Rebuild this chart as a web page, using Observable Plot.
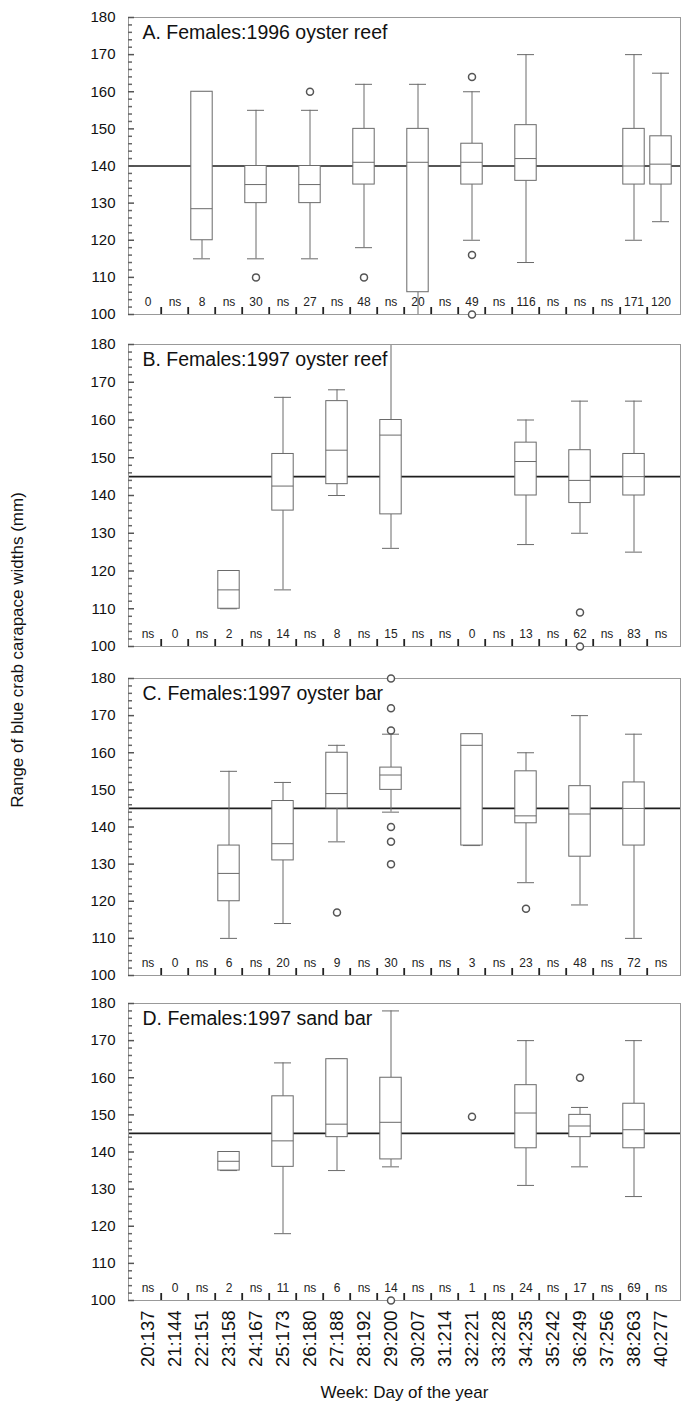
<!DOCTYPE html>
<html>
<head>
<meta charset="utf-8">
<script src="https://cdn.jsdelivr.net/npm/d3@7"></script>
<script src="https://cdn.jsdelivr.net/npm/@observablehq/plot@0.6"></script>
<style>
  body { margin: 0; background: #fff; font-family: "Liberation Sans", Arial, sans-serif; }
  #wrap { position: relative; width: 681px; height: 1410px; overflow: hidden; }
  #charts svg { display: block; }
  #ylab { position: absolute; left: 18px; top: 650px; transform: translate(-50%, -50%) rotate(-90deg);
          white-space: nowrap; font-size: 17px; color: #111; }
</style>
</head>
<body>
<div id="wrap">
  <div id="charts"></div>
  <div id="ylab">Range of blue crab carapace widths (mm)</div>
</div>
<script>
// ---------- shared categories ----------
const weeks = ["20:137","21:144","22:151","23:158","24:167","25:173","26:180","27:188","28:192","29:200",
               "30:207","31:214","32:221","33:228","34:235","35:242","36:249","37:256","38:263","40:277"];
const yMajor = [100, 110, 120, 130, 140, 150, 160, 170, 180];
const titles = ["A. Females:1996 oyster reef", "B. Females:1997 oyster reef",
                "C. Females:1997 oyster bar", "D. Females:1997 sand bar"];
const refLines = [140, 145, 145, 145];

// ---------- Panel A ----------
const countsA = ["0","ns","8","ns","30","ns","27","ns","48","ns","20","ns","49","ns","116","ns","ns","ns","171","120"];
const boxWeeksA = ["22:151","24:167","26:180","28:192","30:207","32:221","34:235","38:263","40:277"];
const lowA  = [115, 115, 115, 118, 100, 120, 114, 120, 125];
const q1A   = [120, 130, 130, 135, 106, 135, 136, 135, 135];
const medA  = [128.5, 135, 135, 141, 141, 141, 142, 140, 140.5];
const q3A   = [160, 140, 140, 150, 150, 146, 151, 150, 148];
const highA = [160, 155, 155, 162, 162, 160, 170, 170, 165];
const outWeeksA = ["24:167","26:180","28:192","32:221","32:221","32:221"];
const outValsA  = [110, 160, 110, 164, 116, 100];

// ---------- Panel B ----------
const countsB = ["ns","0","ns","2","ns","14","ns","8","ns","15","ns","ns","0","ns","13","ns","62","ns","83","ns"];
const boxWeeksB = ["23:158","25:173","27:188","29:200","34:235","36:249","38:263"];
const lowB  = [110, 115, 140, 126, 127, 130, 125];
const q1B   = [110, 136, 143, 135, 140, 138, 140];
const medB  = [115, 142.5, 152, 156, 149, 144, 145];
const q3B   = [120, 151, 165, 160, 154, 152, 151];
const highB = [120, 166, 168, 180, 160, 165, 165];
const outWeeksB = ["36:249","36:249"];
const outValsB  = [109, 100];

// ---------- Panel C ----------
const countsC = ["ns","0","ns","6","ns","20","ns","9","ns","30","ns","ns","3","ns","23","ns","48","ns","72","ns"];
const boxWeeksC = ["23:158","25:173","27:188","29:200","32:221","34:235","36:249","38:263"];
const lowC  = [110, 114, 136, 144, 135, 125, 119, 110];
const q1C   = [120, 131, 145, 150, 135, 141, 132, 135];
const medC  = [127.5, 135.5, 149, 154, 162, 143, 143.5, 145];
const q3C   = [135, 147, 160, 156, 165, 155, 151, 152];
const highC = [155, 152, 162, 165, 165, 160, 170, 165];
const outWeeksC = ["27:188","29:200","29:200","29:200","29:200","29:200","29:200","34:235"];
const outValsC  = [117, 180, 172, 166, 140, 136, 130, 118];

// ---------- Panel D ----------
const countsD = ["ns","0","ns","2","ns","11","ns","6","ns","14","ns","ns","1","ns","24","ns","17","ns","69","ns"];
const boxWeeksD = ["23:158","25:173","27:188","29:200","34:235","36:249","38:263"];
const lowD  = [135, 118, 135, 136, 131, 136, 128];
const q1D   = [135, 136, 144, 138, 141, 144, 141];
const medD  = [137.5, 143, 147.5, 148, 150.5, 147, 146];
const q3D   = [140, 155, 165, 160, 158, 150, 153];
const highD = [140, 164, 165, 178, 170, 152, 170];
const outWeeksD = ["29:200","32:221","36:249"];
const outValsD  = [100, 149.5, 160];

// ---------- drawing ----------
const FONT = "'Liberation Sans', Arial, sans-serif";
const W = 681, ML = 128, MR = 1;
const IW = W - ML - MR;
const BW = IW / weeks.length;
const yMinor = d3.range(100, 181, 2).filter(v => v % 10 !== 0);
const BOX = "#6a6a6a";

function panel(p) {
  const boxes = p.bx.map((w, i) => ({week: w, lo: p.lo[i], q1: p.q1[i], md: p.md[i], q3: p.q3[i], hi: p.hi[i]}));
  const outs = p.ow.map((w, i) => ({week: w, v: p.ov[i]}));
  const countRows = weeks.map((w, i) => ({week: w, n: p.counts[i]}));
  return Plot.plot({
    width: W,
    height: p.top + p.inner + p.bottom,
    marginLeft: ML, marginRight: MR, marginTop: p.top, marginBottom: p.bottom,
    style: {fontFamily: FONT, fontSize: "12px", background: "white", color: "#111", overflow: "visible"},
    x: {type: "band", domain: weeks, padding: 0, axis: null},
    y: {domain: [100, 180], axis: null},
    marks: [
      Plot.ruleY([p.ref], {stroke: "#1e1e1e", strokeWidth: 1.7}),
      Plot.ruleX(boxes, {x: "week", y1: "q3", y2: "hi", stroke: BOX}),
      Plot.ruleX(boxes, {x: "week", y1: "lo", y2: "q1", stroke: BOX}),
      Plot.tickY(boxes, {x: "week", y: "hi", stroke: BOX, insetLeft: 5, insetRight: 5}),
      Plot.tickY(boxes, {x: "week", y: "lo", stroke: BOX, insetLeft: 5, insetRight: 5}),
      Plot.barY(boxes, {x: "week", y1: "q1", y2: "q3", fill: "white", stroke: BOX, insetLeft: 2.8, insetRight: 2.8}),
      Plot.tickY(boxes, {x: "week", y: "md", stroke: BOX, insetLeft: 2.8, insetRight: 2.8}),
      Plot.text(countRows, {x: "week", text: "n", frameAnchor: "bottom", dy: -9, fontSize: 12, fill: "#222"}),
      Plot.frame({stroke: "#999"}),
      // inward minor / major ticks on the left axis
      Plot.axisY({ticks: yMinor, tickSize: -4, text: null, label: null, stroke: "#666", strokeWidth: 1.5}),
      Plot.axisY({ticks: yMajor, tickSize: -6, tickPadding: 19, fontSize: 15, label: null, stroke: "#555", strokeWidth: 1.5,
                  tickFormat: d => String(d)}),
      // short separators between the weekly sample-size labels
      Plot.axisX({ticks: weeks.slice(1), tickSize: -7, text: null, label: null, dx: -BW / 2, stroke: "#222", strokeWidth: 1.8}),
      Plot.dot(outs, {x: "week", y: "v", r: 3.5, stroke: "#555", fill: "white"}),
      Plot.text([p.title], {frameAnchor: "top-left", dx: 14, dy: 21, lineAnchor: "bottom", textAnchor: "start", fontSize: 19.5, fill: "#111"}),
      p.showX ? Plot.axisX({tickRotate: -90, tickSize: 0, tickPadding: 10, fontSize: 18.5, label: null}) : null,
      p.showX ? Plot.text(["Week: Day of the year"], {frameAnchor: "bottom", dy: 97, fontSize: 17, fill: "#111"}) : null
    ]
  });
}

const charts = document.getElementById("charts");
charts.append(panel({title: titles[0], ref: refLines[0], counts: countsA, bx: boxWeeksA, lo: lowA, q1: q1A, md: medA, q3: q3A, hi: highA,
  ow: outWeeksA, ov: outValsA, top: 17, inner: 297, bottom: 16}));
charts.append(panel({title: titles[1], ref: refLines[1], counts: countsB, bx: boxWeeksB, lo: lowB, q1: q1B, md: medB, q3: q3B, hi: highB,
  ow: outWeeksB, ov: outValsB, top: 14, inner: 302, bottom: 18}));
charts.append(panel({title: titles[2], ref: refLines[2], counts: countsC, bx: boxWeeksC, lo: lowC, q1: q1C, md: medC, q3: q3C, hi: highC,
  ow: outWeeksC, ov: outValsC, top: 14, inner: 297, bottom: 15}));
charts.append(panel({title: titles[3], ref: refLines[3], counts: countsD, bx: boxWeeksD, lo: lowD, q1: q1D, md: medD, q3: q3D, hi: highD,
  ow: outWeeksD, ov: outValsD, top: 13, inner: 297, bottom: 110, showX: true}));
</script>
</body>
</html>
